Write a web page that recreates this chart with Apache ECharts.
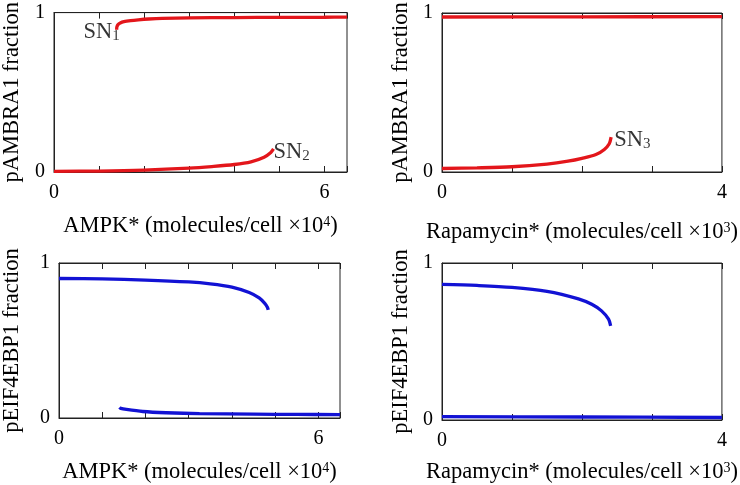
<!DOCTYPE html>
<html><head><meta charset="utf-8">
<script src="https://cdn.jsdelivr.net/npm/echarts/dist/echarts.min.js"></script>
<style>html,body{margin:0;padding:0;background:#fff}#c{width:740px;height:485px}</style>
</head><body><div id="c"></div>
<script>
// Panel 1: pAMBRA1 fraction vs AMPK* (x10^4)
const ampkAmbraHighX = [1.39, 1.395, 1.42, 1.47, 1.55, 1.7, 1.87, 2.1, 2.4, 3.0, 4.0, 5.0, 6.0, 6.5];
const ampkAmbraHighY = [0.893, 0.91, 0.925, 0.935, 0.943, 0.95, 0.955, 0.96, 0.964, 0.967, 0.969, 0.97, 0.971, 0.972];
const ampkAmbraLowX = [0, 1, 2, 3, 3.5, 4.0, 4.37, 4.66, 4.81, 4.87];
const ampkAmbraLowY = [0.004, 0.006, 0.012, 0.024, 0.034, 0.047, 0.064, 0.093, 0.123, 0.145];
// Panel 2: pAMBRA1 fraction vs Rapamycin* (x10^3)
const rapaAmbraHighX = [0, 2, 4];
const rapaAmbraHighY = [0.975, 0.976, 0.977];
const rapaAmbraLowX = [0, 0.5, 1, 1.5, 1.8, 2.0, 2.2, 2.32, 2.39, 2.417];
const rapaAmbraLowY = [0.022, 0.026, 0.033, 0.05, 0.068, 0.086, 0.11, 0.142, 0.178, 0.219];
// Panel 3: pEIF4EBP1 fraction vs AMPK*
const ampkEbpHighX = [0, 1, 2, 3, 3.5, 4.0, 4.4, 4.63, 4.76, 4.82, 4.84];
const ampkEbpHighY = [0.90, 0.897, 0.89, 0.878, 0.866, 0.845, 0.81, 0.775, 0.74, 0.715, 0.697];
const ampkEbpLowX = [1.40, 1.43, 1.56, 1.94, 2.48, 3.25, 4.5, 5.5, 6.5];
const ampkEbpLowY = [0.069, 0.062, 0.055, 0.042, 0.034, 0.028, 0.025, 0.023, 0.022];
// Panel 4: pEIF4EBP1 fraction vs Rapamycin*
const rapaEbpHighX = [0, 0.5, 1, 1.5, 1.95, 2.14, 2.28, 2.38, 2.41];
const rapaEbpHighY = [0.864, 0.857, 0.845, 0.82, 0.772, 0.737, 0.695, 0.642, 0.60];
const rapaEbpLowX = [0, 2, 4];
const rapaEbpLowY = [0.022, 0.019, 0.016];

// Tick labels
const ampkTickLabels = [0, 6];
const rapaTickLabels = [0, 4];
const yTickLabels = [0, 1];

const RED = '#e3161b', BLUE = '#1212d4';
const FONT = 'Liberation Serif';
const NAME_SIZE = 22.5;

function pairs(xs, ys) { return xs.map((x, i) => [x, ys[i]]); }

const grids = [
  {left: 52, top: 7, width: 295, height: 165},
  {left: 442, top: 13, width: 282, height: 159},
  {left: 59, top: 263, width: 281, height: 159},
  {left: 442, top: 263, width: 282, height: 158}
].map(g => Object.assign({show: true, borderColor: '#222', borderWidth: 1, backgroundColor: 'transparent'}, g));

const xNames = [
  {txt: 'AMPK* (molecules/cell ×10', sup: '4', max: 6.5, labels: ampkTickLabels, gap: 43},
  {txt: 'Rapamycin* (molecules/cell ×10', sup: '3', max: 4, labels: rapaTickLabels, gap: 49},
  {txt: 'AMPK* (molecules/cell ×10', sup: '4', max: 6.5, labels: ampkTickLabels, gap: 43},
  {txt: 'Rapamycin* (molecules/cell ×10', sup: '3', max: 4, labels: rapaTickLabels, gap: 41}
];
const yNames = ['pAMBRA1 fraction', 'pAMBRA1 fraction', 'pEIF4EBP1 fraction', 'pEIF4EBP1 fraction'];
const yGaps = [30, 29, 35, 29];

const tickStyle = {show: true, inside: true, length: 6, lineStyle: {color: '#222', width: 1}};
const xAxis = [], yAxis = [];
xNames.forEach((n, i) => {
  xAxis.push({
    type: 'value', gridIndex: i, position: 'bottom', min: 0, max: n.max, interval: 1,
    name: '{a|' + n.txt + '}{s|' + n.sup + '}{a|)}', nameLocation: 'middle', nameGap: n.gap,
    nameTextStyle: {rich: {a: {fontFamily: FONT, fontSize: NAME_SIZE, color: '#000'}, s: {fontFamily: FONT, fontSize: 14, color: '#000', verticalAlign: 'top'}}},
    axisLine: {show: true, lineStyle: {color: '#222', width: 1}}, splitLine: {show: false},
    axisTick: tickStyle,
    axisLabel: {margin: 11, fontFamily: FONT, fontSize: 20, color: '#000',
      formatter: v => n.labels.indexOf(v) >= 0 ? String(v) : ''}
  });
  xAxis.push({
    type: 'value', gridIndex: i, position: 'top', min: 0, max: n.max, interval: 1,
    axisLine: {show: true, lineStyle: {color: '#222', width: 1}}, splitLine: {show: false}, axisLabel: {show: false},
    axisTick: tickStyle
  });
  yAxis.push({
    type: 'value', gridIndex: i, min: 0, max: 1, interval: 1,
    name: yNames[i], nameLocation: 'middle', nameGap: yGaps[i],
    nameTextStyle: {fontFamily: FONT, fontSize: NAME_SIZE, color: '#000'},
    axisLine: {show: true, lineStyle: {color: '#222', width: 1}}, splitLine: {show: false}, axisTick: {show: false},
    axisLabel: {margin: 9, fontFamily: FONT, fontSize: 20, color: '#000',
      formatter: v => yTickLabels.indexOf(v) >= 0 ? String(v) : ''}
  });
});

function line(i, xs, ys, color) {
  return {type: 'line', xAxisIndex: i * 2, yAxisIndex: i, data: pairs(xs, ys), showSymbol: false,
    smooth: 0.3, lineStyle: {color: color, width: 3.3}, silent: true, z: 3};
}
const snRich = {a: {fontFamily: FONT, fontSize: NAME_SIZE, color: '#000'}, b: {fontFamily: FONT, fontSize: 15, color: '#000', verticalAlign: 'bottom'}};
function snLabel(i, x, y, num, pos, dist, off) {
  return {type: 'scatter', xAxisIndex: i * 2, yAxisIndex: i, data: [[x, y]], symbolSize: 0, silent: true,
    label: {show: true, position: pos, distance: dist, offset: off, formatter: '{a|SN}{b|' + num + '}', rich: snRich}};
}

const series = [
  line(0, ampkAmbraHighX, ampkAmbraHighY, RED),
  line(0, ampkAmbraLowX, ampkAmbraLowY, RED),
  line(1, rapaAmbraHighX, rapaAmbraHighY, RED),
  line(1, rapaAmbraLowX, rapaAmbraLowY, RED),
  line(2, ampkEbpHighX, ampkEbpHighY, BLUE),
  line(2, ampkEbpLowX, ampkEbpLowY, BLUE),
  line(3, rapaEbpHighX, rapaEbpHighY, BLUE),
  line(3, rapaEbpLowX, rapaEbpLowY, BLUE),
  snLabel(0, ampkAmbraHighX[0], ampkAmbraHighY[0], '1', 'left', 1, [4, 2]),
  snLabel(0, ampkAmbraLowX[ampkAmbraLowX.length - 1], ampkAmbraLowY[ampkAmbraLowY.length - 1], '2', 'right', 0, [0, 3]),
  snLabel(1, rapaAmbraLowX[rapaAmbraLowX.length - 1], rapaAmbraLowY[rapaAmbraLowY.length - 1], '3', 'right', 3, [0, 3])
];

const chart = echarts.init(document.getElementById('c'), null, {renderer: 'canvas'});
chart.setOption({animation: false, backgroundColor: '#fff', grid: grids, xAxis: xAxis, yAxis: yAxis, series: series});
</script>
</body></html>
